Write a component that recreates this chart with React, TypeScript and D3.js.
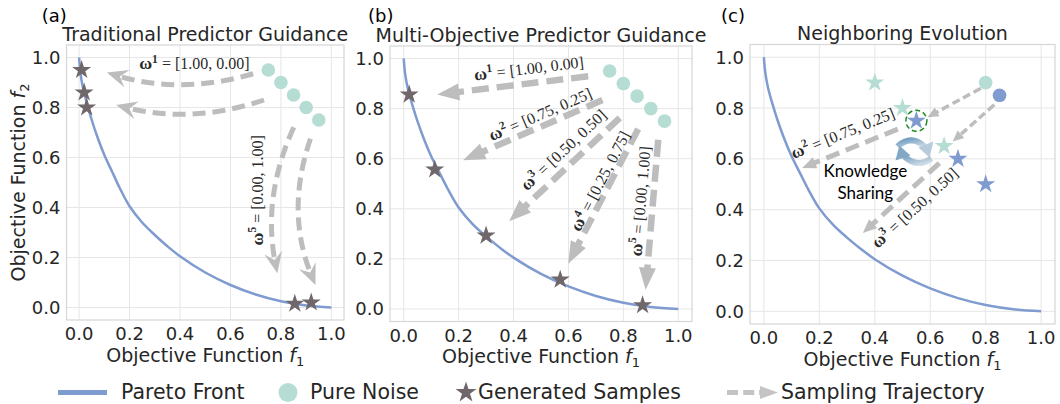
import * as React from "react";
import * as d3 from "d3";

// Pareto front
const paretoF1 = [0, 0.005, 0.015, 0.03, 0.05, 0.075, 0.1, 0.13, 0.16, 0.2, 0.25, 0.3, 0.35, 0.4, 0.5, 0.6, 0.7, 0.8, 0.9, 1.0];
const paretoF2 = [1, 0.94, 0.88, 0.82, 0.75, 0.675, 0.61, 0.545, 0.48, 0.405, 0.34, 0.29, 0.245, 0.205, 0.14, 0.09, 0.052, 0.025, 0.008, 0];

const ticks = [0, 0.2, 0.4, 0.6, 0.8, 1.0];

// pure noise (panels a, b)
const noiseF1 = [0.75, 0.8, 0.85, 0.9, 0.95];
const noiseF2 = [0.95, 0.9, 0.85, 0.8, 0.75];

// generated samples
const tradSampleF1 = [0.01, 0.02, 0.03, 0.855, 0.92];
const tradSampleF2 = [0.95, 0.86, 0.8, 0.015, 0.02];
const moSampleF1 = [0.02, 0.113, 0.3, 0.57, 0.87];
const moSampleF2 = [0.856, 0.557, 0.293, 0.117, 0.015];

// trajectories: start f1, start f2, end f1, end f2, bend (px)
const tradTraj = [
  [0.69, 0.935, 0.11, 0.94, -22],
  [0.733, 0.83, 0.147, 0.81, -22],
  [0.851, 0.721, 0.786, 0.137, 24],
  [0.917, 0.675, 0.937, 0.09, 28],
];
const moTraj = [
  [0.672, 0.929, 0.122, 0.856],
  [0.724, 0.834, 0.216, 0.594],
  [0.787, 0.763, 0.384, 0.35],
  [0.854, 0.719, 0.599, 0.181],
  [0.927, 0.676, 0.881, 0.077],
];

// weight vectors
const weightIds = ["1", "2", "3", "4", "5"];
const weightVals = ["1.00, 0.00", "0.75, 0.25", "0.50, 0.50", "0.25, 0.75", "0.00, 1.00"];
const moLabelF1 = [0.456, 0.498, 0.583, 0.717, 0.864];
const moLabelF2 = [0.959, 0.776, 0.634, 0.51, 0.43];
const tradLabelF1 = [0.457, 0.707];
const tradLabelF2 = [0.973, 0.469];

// neighboring evolution (panel c)
const prevF1 = [0.4, 0.5, 0.65];
const prevF2 = [0.9, 0.8, 0.65];
const newF1 = [0.55, 0.7, 0.8];
const newF2 = [0.75, 0.6, 0.5];
const tealNoise = [0.8, 0.9];
const blueNoise = [0.85, 0.85];
const neighTraj = [
  [0.783, 0.878, 0.59, 0.764],
  [0.831, 0.813, 0.681, 0.668],
];
const neighWeightTraj = [
  [0.483, 0.717, 0.138, 0.564],
  [0.633, 0.583, 0.357, 0.308],
];
const neighLabelF1 = [0.285, 0.545];
const neighLabelF2 = [0.7, 0.406];

const legendLabels = ["Pareto Front", "Pure Noise", "Generated Samples", "Sampling Trajectory"];

const BLUE = "#7f9bcf";
const TEAL = "#b5ddd3";
const STAR = "#6f6769";
const GRAY = "#bdbdbd";
const FONT = "'DejaVu Sans', sans-serif";
const SERIF = "'Liberation Serif', serif";

const boxes = {
  a: { l: 66.5, r: 344, t: 45, b: 320 },
  b: { l: 390, r: 692, t: 46, b: 321.5 },
  c: { l: 750, r: 1055, t: 44.5, b: 324 },
};

function scalesFor(p: any) {
  const x = d3.scaleLinear().domain([-0.05, 1.05]).range([p.l, p.r]);
  const y = d3.scaleLinear().domain([-0.05, 1.05]).range([p.b, p.t]);
  return { x, y };
}

const starPath = (r: number) => d3.symbol(d3.symbolStar, (r * r) / 0.8908130915292852)() as string;

function Arrow(props: any) {
  const { x1, y1, x2, y2, bend = 0, width, dash, headLen, headW, notch = 0, color = GRAY } = props;
  const dx = x2 - x1, dy = y2 - y1;
  const L = Math.hypot(dx, dy);
  const cx = (x1 + x2) / 2 + (-dy / L) * bend;
  const cy = (y1 + y2) / 2 + (dx / L) * bend;
  let ux = x2 - cx, uy = y2 - cy;
  const ul = Math.hypot(ux, uy);
  ux /= ul; uy /= ul;
  const bx = x2 - ux * headLen, by = y2 - uy * headLen;
  const ex = x2 - ux * headLen * (0.75 - notch), ey = y2 - uy * headLen * (0.75 - notch);
  const px = -uy, py = ux;
  const nx = bx + ux * headLen * notch, ny = by + uy * headLen * notch;
  const head = [
    [x2, y2],
    [bx + px * headW / 2, by + py * headW / 2],
    [nx, ny],
    [bx - px * headW / 2, by - py * headW / 2],
  ];
  return (
    <g>
      <path
        d={`M${x1},${y1} Q${cx},${cy} ${ex},${ey}`}
        fill="none"
        stroke={color}
        strokeWidth={width}
        strokeDasharray={dash}
      />
      <path d={"M" + head.map(p => p.join(",")).join("L") + "Z"} fill={color} />
    </g>
  );
}

function WLabel(props: any) {
  const { x, y, angle, k, text, size } = props;
  return (
    <text
      transform={`translate(${x},${y}) rotate(${angle})`}
      textAnchor="middle"
      dy="0.32em"
      fontFamily={SERIF}
      fontSize={size}
      fill="#2a2a2a"
    >
      <tspan fontWeight="bold" fontSize={size * 1.1}>ω</tspan>
      <tspan fontSize={size * 0.72} fontWeight="bold" dy={-size * 0.42}>{k}</tspan>
      <tspan dy={size * 0.42}>{" = [" + text + "]"}</tspan>
    </text>
  );
}

function Frame(props: any) {
  const { p, title, tag, tagX, yLabel } = props;
  const { x, y } = scalesFor(p);
  const midX = (p.l + p.r) / 2;
  return (
    <g>
      <rect x={p.l} y={p.t} width={p.r - p.l} height={p.b - p.t} fill="#fff" />
      {ticks.map(t => (
        <g key={"g" + t}>
          <line x1={x(t)} x2={x(t)} y1={p.t} y2={p.b} stroke="#e6e6e6" strokeWidth={1} />
          <line x1={p.l} x2={p.r} y1={y(t)} y2={y(t)} stroke="#e6e6e6" strokeWidth={1} />
        </g>
      ))}
      <rect x={p.l} y={p.t} width={p.r - p.l} height={p.b - p.t} fill="none" stroke="#d6d6d6" strokeWidth={1.2} />
      {ticks.map(t => (
        <text key={"xt" + t} x={x(t)} y={p.b + 20} textAnchor="middle" fontFamily={FONT} fontSize={18} fill="#262626">
          {t.toFixed(1)}
        </text>
      ))}
      {ticks.map(t => (
        <text key={"yt" + t} x={p.l - 6} y={y(t)} dy="0.36em" textAnchor="end" fontFamily={FONT} fontSize={18} fill="#262626">
          {t.toFixed(1)}
        </text>
      ))}
      <text x={midX} y={p.b + 41.5} textAnchor="middle" fontFamily={FONT} fontSize={19} fill="#262626">
        Objective Function <tspan fontStyle="italic">f</tspan>
        <tspan fontSize={13} dy={4}>1</tspan>
      </text>
      {yLabel && (
        <text
          transform={`translate(24.5,${(p.t + p.b) / 2}) rotate(-90)`}
          textAnchor="middle"
          fontFamily={FONT}
          fontSize={19}
          fill="#262626"
        >
          Objective Function <tspan fontStyle="italic">f</tspan>
          <tspan fontSize={13} dy={4}>2</tspan>
        </text>
      )}
      <text x={midX} y={p.t - 4.5} textAnchor="middle" fontFamily={FONT} fontSize={19} fill="#262626">
        {title}
      </text>
      <text x={tagX} y={22} fontFamily={FONT} fontSize={18} fill="#000">
        {tag}
      </text>
    </g>
  );
}

function Pareto(props: any) {
  const { x, y } = scalesFor(props.p);
  const line = d3
    .line<number>()
    .x((_, i) => x(paretoF1[i]))
    .y(d => y(d))
    .curve(d3.curveCatmullRom.alpha(0.5));
  return <path d={line(paretoF2) as string} fill="none" stroke={BLUE} strokeWidth={2.5} />;
}

function PanelA() {
  const p = boxes.a;
  const { x, y } = scalesFor(p);
  return (
    <g>
      <Frame p={p} title="Traditional Predictor Guidance" tag="(a)" tagX={41.7} yLabel />
      <Pareto p={p} />
      {tradTraj.map((d, i) => (
        <Arrow
          key={i}
          x1={x(d[0])} y1={y(d[1])} x2={x(d[2])} y2={y(d[3])}
          bend={d[4]} width={5} dash="13 7" headLen={21} headW={18} notch={0.35}
        />
      ))}
      {noiseF1.map((f, i) => (
        <circle key={i} cx={x(f)} cy={y(noiseF2[i])} r={6.8} fill={TEAL} />
      ))}
      {tradSampleF1.map((f, i) => (
        <path key={i} d={starPath(10)} transform={`translate(${x(f)},${y(tradSampleF2[i])})`} fill={STAR} />
      ))}
      <WLabel x={x(tradLabelF1[0])} y={y(tradLabelF2[0])} angle={0} k={weightIds[0]} text={weightVals[0]} size={16} />
      <WLabel x={x(tradLabelF1[1])} y={y(tradLabelF2[1])} angle={-90} k={weightIds[4]} text={weightVals[4]} size={16} />
    </g>
  );
}

function PanelB() {
  const p = boxes.b;
  const { x, y } = scalesFor(p);
  return (
    <g>
      <Frame p={p} title="Multi-Objective Predictor Guidance" tag="(b)" tagX={368} />
      <Pareto p={p} />
      {moTraj.map((d, i) => (
        <Arrow
          key={i}
          x1={x(d[0])} y1={y(d[1])} x2={x(d[2])} y2={y(d[3])}
          width={6.5} dash="17 8" headLen={22} headW={17}
        />
      ))}
      {noiseF1.map((f, i) => (
        <circle key={i} cx={x(f)} cy={y(noiseF2[i])} r={6.8} fill={TEAL} />
      ))}
      {moSampleF1.map((f, i) => (
        <path key={i} d={starPath(10)} transform={`translate(${x(f)},${y(moSampleF2[i])})`} fill={STAR} />
      ))}
      {moTraj.map((d, i) => {
        const ang = (Math.atan2(y(d[1]) - y(d[3]), x(d[0]) - x(d[2])) * 180) / Math.PI;
        return (
          <WLabel key={i} x={x(moLabelF1[i])} y={y(moLabelF2[i])} angle={ang} k={weightIds[i]} text={weightVals[i]} size={16} />
        );
      })}
    </g>
  );
}

function ShareIcon(props: any) {
  const { cx, cy } = props;
  return (
    <g>
      <defs>
        <linearGradient id="shareGrad" x1="0" y1="0" x2="1" y2="1">
          <stop offset="0" stopColor="#6f9bc0" />
          <stop offset="1" stopColor="#d3e0e8" />
        </linearGradient>
        <linearGradient id="shareGrad2" x1="1" y1="1" x2="0" y2="0">
          <stop offset="0" stopColor="#d3e0e8" />
          <stop offset="1" stopColor="#7fa3c4" />
        </linearGradient>
      </defs>
      <path d={`M${cx - 17},${cy - 5} Q${cx - 3},${cy - 17} ${cx + 10},${cy - 5}`} fill="none" stroke="url(#shareGrad)" strokeWidth={6} />
      <path d={`M${cx + 4},${cy - 4} L${cx + 19},${cy - 10} L${cx + 15},${cy + 6} Z`} fill="#b6cbdc" />
      <path d={`M${cx + 17},${cy + 7} Q${cx + 3},${cy + 17} ${cx - 10},${cy + 5}`} fill="none" stroke="url(#shareGrad2)" strokeWidth={6} />
      <path d={`M${cx - 4},${cy + 4} L${cx - 19},${cy + 9} L${cx - 15},${cy - 6} Z`} fill="#83a7c7" />
    </g>
  );
}

function PanelC() {
  const p = boxes.c;
  const { x, y } = scalesFor(p);
  return (
    <g>
      <Frame p={p} title="Neighboring Evolution" tag="(c)" tagX={721} />
      <Pareto p={p} />
      {prevF1.map((f, i) => (
        <path key={i} d={starPath(10)} transform={`translate(${x(f)},${y(prevF2[i])})`} fill={TEAL} />
      ))}
      {neighTraj.map((d, i) => (
        <Arrow
          key={i}
          x1={x(d[0])} y1={y(d[1])} x2={x(d[2])} y2={y(d[3])}
          width={3.5} dash="8 4" headLen={11} headW={10}
        />
      ))}
      {neighWeightTraj.map((d, i) => (
        <Arrow
          key={i}
          x1={x(d[0])} y1={y(d[1])} x2={x(d[2])} y2={y(d[3])}
          width={5} dash="14 7" headLen={14} headW={12}
        />
      ))}
      <circle cx={x(tealNoise[0])} cy={y(tealNoise[1])} r={6.8} fill={TEAL} />
      <circle cx={x(blueNoise[0])} cy={y(blueNoise[1])} r={6.8} fill={BLUE} />
      {newF1.map((f, i) => (
        <path key={i} d={starPath(10)} transform={`translate(${x(f)},${y(newF2[i])})`} fill={BLUE} />
      ))}
      <circle cx={x(newF1[0])} cy={y(newF2[0])} r={10.5} fill="none" stroke="#1f8a1f" strokeWidth={1.5} strokeDasharray="5 3" />
      {neighWeightTraj.map((d, i) => {
        const ang = (Math.atan2(y(d[1]) - y(d[3]), x(d[0]) - x(d[2])) * 180) / Math.PI;
        return (
          <WLabel key={i} x={x(neighLabelF1[i])} y={y(neighLabelF2[i])} angle={ang} k={weightIds[i + 1]} text={weightVals[i + 1]} size={16} />
        );
      })}
      <ShareIcon cx={x(0.543)} cy={y(0.629)} />
      <text x={x(0.366)} y={y(0.55)} dy="0.35em" textAnchor="middle" fontFamily="Lato, sans-serif" fontSize={17} fill="#000">
        Knowledge
      </text>
      <text x={x(0.366)} y={y(0.465)} dy="0.35em" textAnchor="middle" fontFamily="Lato, sans-serif" fontSize={17} fill="#000">
        Sharing
      </text>
    </g>
  );
}

function Legend() {
  const ly = 392.5;
  const base = 398.5;
  return (
    <g fontFamily={FONT} fontSize={20.5} fill="#262626">
      <line x1={58} x2={107} y1={ly} y2={ly} stroke={BLUE} strokeWidth={5} />
      <text x={121} y={base}>{legendLabels[0]}</text>
      <circle cx={288} cy={ly} r={9.5} fill={TEAL} />
      <text x={310} y={base}>{legendLabels[1]}</text>
      <path d={starPath(11)} transform={`translate(466,${ly})`} fill={STAR} />
      <text x={478} y={base}>{legendLabels[2]}</text>
      <Arrow x1={727} y1={ly} x2={778} y2={ly} width={5} dash="11 5" headLen={18} headW={13} color="#c4c4c4" />
      <text x={781} y={base}>{legendLabels[3]}</text>
    </g>
  );
}

export default function App() {
  return (
    <svg width={1060} height={404} style={{ position: "absolute", left: 0, top: 0, background: "#fff" }}>
      <rect width={1060} height={404} fill="#fff" />
      <PanelA />
      <PanelB />
      <PanelC />
      <Legend />
    </svg>
  );
}
